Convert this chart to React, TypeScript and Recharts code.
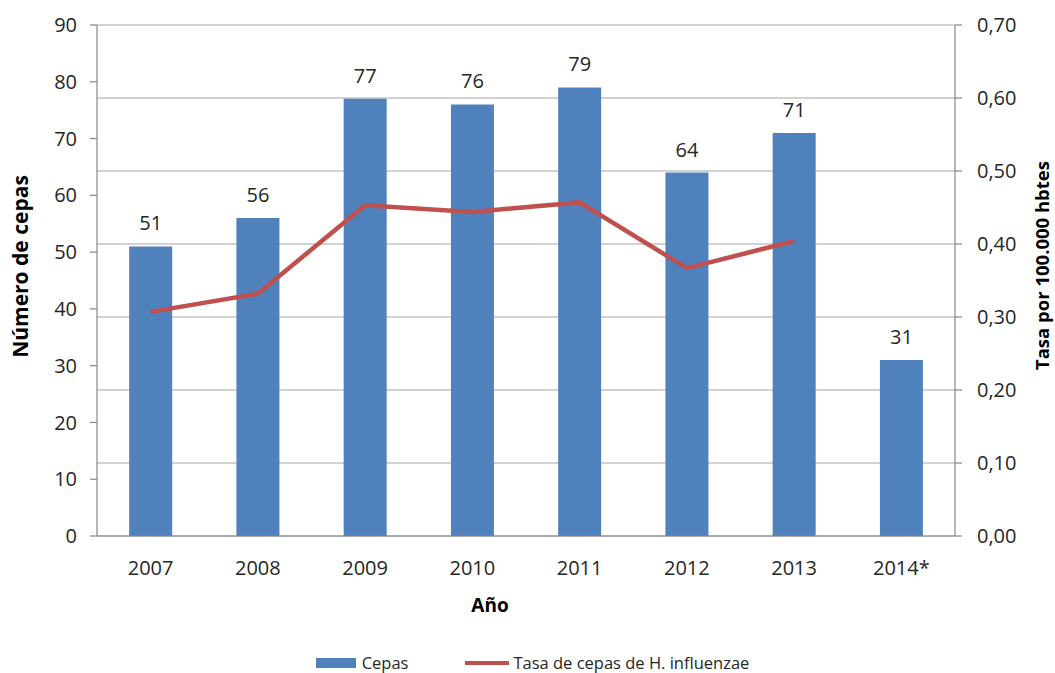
import React from 'react';
import { ComposedChart, Bar, Line, XAxis, YAxis, CartesianGrid, LabelList, Legend } from 'recharts';

const years = ['2007', '2008', '2009', '2010', '2011', '2012', '2013', '2014*'];
const cepas = [51, 56, 77, 76, 79, 64, 71, 31];
const tasa: (number | null)[] = [0.307, 0.332, 0.453, 0.444, 0.457, 0.367, 0.404, null];
const leftTicks = [0, 10, 20, 30, 40, 50, 60, 70, 80, 90];
const rightTicks = [0, 0.1, 0.2, 0.3, 0.4, 0.5, 0.6, 0.7];
const edgeTicks = [0, 1, 2, 3, 4, 5, 6, 7, 8];

const data = years.map((y, i) => ({ year: y, cepas: cepas[i], tasa: tasa[i], idx: i + 0.5 }));

const FONT = '"Open Sans", "Liberation Sans", sans-serif';
const TXT = '#262626';
const AXIS = '#868686';
const GRID = '#a6a6a6';
const BLUE = '#4f81bd';
const RED = '#c0504d';

const fmtRight = (v: number) => v.toFixed(2).replace('.', ',');

const LegendContent = () => (
  <div style={{ display: 'flex', justifyContent: 'center', alignItems: 'center', fontFamily: FONT, fontSize: 16.5, lineHeight: '22px', color: TXT, paddingLeft: 10 }}>
    <span style={{ display: 'inline-block', width: 40, height: 10, background: BLUE, marginRight: 6 }} />
    <span>Cepas</span>
    <span style={{ display: 'inline-block', width: 44, height: 4, background: RED, marginLeft: 57, marginRight: 4 }} />
    <span>Tasa de cepas de H. influenzae</span>
  </div>
);

export default function App() {
  return (
    <div style={{ position: 'absolute', left: 0, top: 0, width: 1055, height: 673, background: '#fff' }}>
      <ComposedChart
        width={1055}
        height={673}
        data={data}
        margin={{ top: 25, right: 0, bottom: 37, left: 0 }}
        barCategoryGap="30%"
      >
        <CartesianGrid vertical={false} yAxisId="right" stroke={GRID} strokeWidth={1.2} />
        <XAxis
          xAxisId="edge"
          type="number"
          dataKey="idx"
          domain={[0, 8]}
          ticks={edgeTicks}
          allowDataOverflow
          tick={false}
          axisLine={false}
          tickLine={{ stroke: AXIS, strokeWidth: 1.2 }}
          tickSize={8}
          height={0}
        />
        <XAxis
          xAxisId="cat"
          dataKey="year"
          tickLine={false}
          axisLine={{ stroke: AXIS, strokeWidth: 1.2 }}
          tickSize={8}
          tickMargin={17}
          tick={{ fill: TXT, fontSize: 20, fontFamily: FONT }}
          height={70}
          interval={0}
          label={{
            content: (props: any) => {
              const vb = props.viewBox;
              return (
                <text x={vb.x + vb.width / 2 - 36} y={vb.y + 76} textAnchor="middle" fill="#000" fontSize={19} fontWeight="bold" fontFamily={FONT}>
                  Año
                </text>
              );
            },
          }}
        />
        <YAxis
          yAxisId="left"
          orientation="left"
          domain={[0, 90]}
          ticks={leftTicks}
          width={97}
          tickSize={7}
          tickMargin={13}
          axisLine={{ stroke: AXIS, strokeWidth: 1.2 }}
          tickLine={{ stroke: AXIS, strokeWidth: 1.2 }}
          tick={{ fill: TXT, fontSize: 20, fontFamily: FONT }}
          label={{
            content: (props: any) => {
              const vb = props.viewBox;
              const cx = 20;
              const cy = vb.y + vb.height / 2 - 14;
              return (
                <text x={cx} y={cy} transform={`rotate(-90 ${cx} ${cy})`} textAnchor="middle" dominantBaseline="central" fill="#000" fontSize={21} fontWeight="bold" fontFamily={FONT}>
                  Número de cepas
                </text>
              );
            },
          }}
        />
        <YAxis
          yAxisId="right"
          orientation="right"
          domain={[0, 0.7]}
          ticks={rightTicks}
          tickFormatter={fmtRight}
          width={100}
          tickSize={7}
          tickMargin={15}
          axisLine={{ stroke: AXIS, strokeWidth: 1.2 }}
          tickLine={{ stroke: AXIS, strokeWidth: 1.2 }}
          tick={{ fill: TXT, fontSize: 20, fontFamily: FONT }}
          label={{
            content: (props: any) => {
              const vb = props.viewBox;
              const cx = 1041;
              const cy = vb.y + vb.height / 2 - 15;
              return (
                <text x={cx} y={cy} transform={`rotate(-90 ${cx} ${cy})`} textAnchor="middle" dominantBaseline="central" fill="#000" fontSize={18.5} fontWeight="bold" fontFamily={FONT}>
                  Tasa por 100.000 hbtes
                </text>
              );
            },
          }}
        />
        <Bar xAxisId="cat" yAxisId="left" dataKey="cepas" name="Cepas" fill={BLUE} isAnimationActive={false}>
          <LabelList dataKey="cepas" position="top" offset={16} fill={TXT} fontSize={20} fontFamily={FONT} />
        </Bar>
        <Line
          xAxisId="cat"
          yAxisId="right"
          dataKey="tasa"
          name="Tasa de cepas de H. influenzae"
          stroke={RED}
          strokeWidth={4.5}
          dot={false}
          activeDot={false}
          connectNulls={false}
          isAnimationActive={false}
        />
        <Legend verticalAlign="bottom" height={30} wrapperStyle={{ top: 652, bottom: 'auto' }} content={<LegendContent />} />
      </ComposedChart>
    </div>
  );
}
